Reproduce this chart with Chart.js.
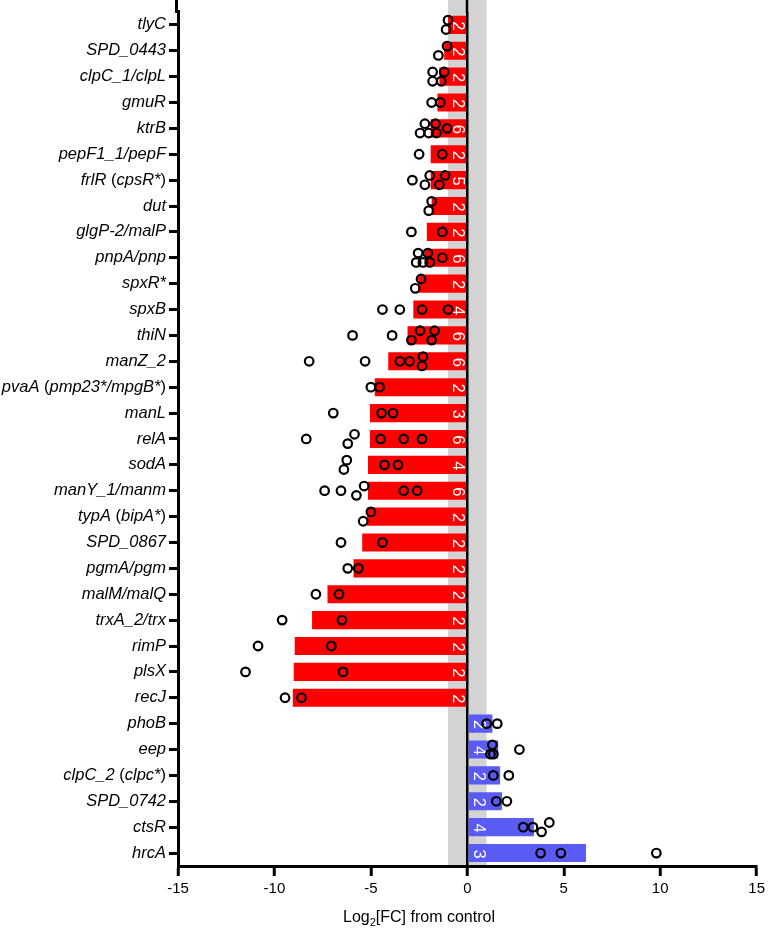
<!DOCTYPE html>
<html lang="en">
<head>
<meta charset="UTF-8">
<title>Log2 fold change per gene</title>
<script src="https://cdn.jsdelivr.net/npm/chart.js"></script>
<style>
    html, body { margin: 0; padding: 0; background: #fff; }
    #wrap { width: 769px; height: 928px; }
</style>
</head>
<body>
<div id="wrap"><canvas id="fc-chart" width="769" height="928"></canvas></div>
<script>
// genes, top to bottom
const genes = ['tlyC', 'SPD_0443', 'clpC_1/clpL', 'gmuR', 'ktrB', 'pepF1_1/pepF', 'frlR (cpsR*)', 'dut',
    'glgP-2/malP', 'pnpA/pnp', 'spxR*', 'spxB', 'thiN', 'manZ_2', 'pvaA (pmp23*/mpgB*)', 'manL', 'relA',
    'sodA', 'manY_1/manm', 'typA (bipA*)', 'SPD_0867', 'pgmA/pgm', 'malM/malQ', 'trxA_2/trx', 'rimP',
    'plsX', 'recJ', 'phoB', 'eep', 'clpC_2 (clpc*)', 'SPD_0742', 'ctsR', 'hrcA'];

// bar length (mean log2 FC)
const meanFC = [-1.0, -1.2, -1.45, -1.55, -1.9, -1.9, -1.9, -1.85, -2.1, -2.2, -2.55, -2.8, -3.1, -4.1,
    -4.8, -5.05, -5.05, -5.15, -5.15, -5.2, -5.45, -5.9, -7.25, -8.05, -8.95, -9.0, -9.05,
    1.3, 1.6, 1.7, 1.8, 3.45, 6.15];

// number printed inside each bar
const nReps = [2, 2, 2, 2, 6, 2, 5, 2, 2, 6, 2, 4, 6, 6, 2, 3, 6, 4, 6, 2, 2, 2, 2, 2, 2, 2, 2, 2, 4, 2, 2, 4, 3];

// individual values (open circles)
const replicateFC = [
    [-1.0, -1.1],
    [-1.05, -1.5],
    [-1.8, -1.8, -1.35, -1.2],
    [-1.4, -1.85],
    [-2.2, -2.45, -2.0, -1.65, -1.6, -1.05],
    [-2.5, -1.3],
    [-2.85, -2.2, -1.95, -1.45, -1.15],
    [-1.85, -2.0],
    [-2.9, -1.3],
    [-2.55, -2.65, -2.3, -2.05, -1.95, -1.3],
    [-2.4, -2.7],
    [-4.4, -3.5, -2.35, -1.0],
    [-5.95, -3.9, -2.45, -2.9, -1.7, -1.85],
    [-8.2, -5.3, -3.5, -3.0, -2.3, -2.35],
    [-4.55, -5.0],
    [-6.95, -4.45, -3.85],
    [-8.35, -6.2, -5.85, -4.5, -3.3, -2.35],
    [-6.25, -6.4, -4.3, -3.6],
    [-7.4, -6.55, -5.75, -5.35, -3.3, -2.6],
    [-5.0, -5.4],
    [-6.55, -4.4],
    [-6.2, -5.65],
    [-7.85, -6.65],
    [-9.6, -6.5],
    [-10.85, -7.05],
    [-11.5, -6.45],
    [-9.45, -8.6],
    [1.0, 1.55],
    [1.2, 1.3, 1.35, 2.7],
    [1.35, 2.15],
    [1.5, 2.05],
    [2.9, 3.4, 3.85, 4.25],
    [3.8, 4.85, 9.8]
];

const xTicks = [-15, -10, -5, 0, 5, 10, 15];
const axisTitle = ['Log', '2', '[FC] from control'];

const RED = '#ff0000';
const BLUE = '#5a5af4';
const FONT = '"Liberation Sans", Arial, Helvetica, sans-serif';
const LABEL_SIZE = 16.5;

// spread overlapping circles up/down inside their row
function jitterRow(values, row) {
    const sorted = values.slice().sort((a, b) => a - b);
    const pts = [];
    let cluster = [];
    const flush = () => {
        cluster.forEach((v, j) => {
            const off = cluster.length === 1 ? 0 : (j % 2 === 0 ? 0.18 : -0.18);
            pts.push({ x: v, y: row + off });
        });
        cluster = [];
    };
    sorted.forEach(v => {
        if (cluster.length && v - cluster[cluster.length - 1] > 0.45) flush();
        cluster.push(v);
    });
    flush();
    return pts;
}

const bars = meanFC.map((v, i) => ({ x: v, y: i }));
const points = [];
replicateFC.forEach((vals, i) => points.push(...jitterRow(vals, i)));

const bandPlugin = {
    id: 'band',
    beforeDraw(chart) {
        const { ctx, chartArea } = chart;
        const x = chart.scales.x;
        const a = x.getPixelForValue(-1), b = x.getPixelForValue(1);
        ctx.save();
        ctx.fillStyle = '#d3d3d3';
        ctx.fillRect(a, 0, b - a, chartArea.bottom);
        ctx.restore();
    },
    afterDraw(chart) {
        const { ctx, chartArea } = chart;
        const x = chart.scales.x, y = chart.scales.y;
        ctx.save();
        ctx.strokeStyle = '#000';
        ctx.lineWidth = 3;
        ctx.beginPath();
        ctx.moveTo(chartArea.left - 1.5, 0);
        ctx.lineTo(chartArea.left - 1.5, chartArea.top + 1);
        ctx.stroke();
        ctx.lineWidth = 2.5;
        ctx.beginPath();
        ctx.moveTo(Math.round(x.getPixelForValue(0)), 0);
        ctx.lineTo(Math.round(x.getPixelForValue(0)), chartArea.top + 1);
        ctx.stroke();

        // gene names: italic, brackets upright
        ctx.fillStyle = '#000';
        ctx.textBaseline = 'middle';
        ctx.textAlign = 'left';
        const ital = 'italic ' + LABEL_SIZE + 'px ' + FONT;
        const plain = LABEL_SIZE + 'px ' + FONT;
        const right = chartArea.left - 12;
        genes.forEach((g, i) => {
            const parts = g.split(/([()])/).filter(p => p !== '');
            const fonts = parts.map(p => (p === '(' || p === ')') ? plain : ital);
            let total = 0;
            const widths = parts.map((p, k) => { ctx.font = fonts[k]; const w = ctx.measureText(p).width; total += w; return w; });
            let tx = right - total;
            const ty = y.getPixelForValue(i);
            parts.forEach((p, k) => { ctx.font = fonts[k]; ctx.fillText(p, tx, ty); tx += widths[k]; });
        });

        // axis title with subscript
        ctx.textBaseline = 'alphabetic';
        const big = '16px ' + FONT, small = '11px ' + FONT;
        ctx.font = big;
        const w0 = ctx.measureText(axisTitle[0]).width;
        const w2 = ctx.measureText(axisTitle[2]).width;
        ctx.font = small;
        const w1 = ctx.measureText(axisTitle[1]).width;
        let tx = 419 - (w0 + w1 + w2) / 2;
        const ty = 922;
        ctx.font = big;
        ctx.fillText(axisTitle[0], tx, ty);
        tx += w0;
        ctx.font = small;
        ctx.fillText(axisTitle[1], tx, ty + 4);
        tx += w1;
        ctx.font = big;
        ctx.fillText(axisTitle[2], tx, ty);
        ctx.restore();
    }
};

const nLabelPlugin = {
    id: 'nLabels',
    afterDatasetDraw(chart, args) {
        if (args.index !== 0) return;
        const ctx = chart.ctx;
        const zero = chart.scales.x.getPixelForValue(0);
        ctx.save();
        ctx.fillStyle = '#fff';
        ctx.font = '16.5px ' + FONT;
        ctx.textAlign = 'center';
        ctx.textBaseline = 'middle';
        args.meta.data.forEach((bar, i) => {
            const cx = meanFC[i] < 0 ? zero - 10 : zero + 11;
            ctx.save();
            ctx.translate(cx, bar.y + 1);
            ctx.rotate(Math.PI / 2);
            ctx.fillText(String(nReps[i]), 0, 0);
            ctx.restore();
        });
        ctx.restore();
    }
};

new Chart(document.getElementById('fc-chart'), {
    type: 'bar',
    data: {
        datasets: [{
            type: 'bar',
            data: bars,
            indexAxis: 'y',
            backgroundColor: meanFC.map(v => v < 0 ? RED : BLUE),
            barPercentage: 0.7,
            categoryPercentage: 1,
            grouped: false,
            order: 1
        }, {
            type: 'scatter',
            data: points,
            indexAxis: 'x',
            pointRadius: 4.3,
            pointBorderWidth: 2.2,
            pointBorderColor: '#000',
            pointBackgroundColor: 'rgba(0,0,0,0)',
            showLine: false,
            order: 0
        }]
    },
    options: {
        indexAxis: 'y',
        responsive: false,
        animation: false,
        events: [],
        layout: { padding: { top: 6, right: 8, left: 0, bottom: 0 } },
        plugins: {
            legend: { display: false },
            tooltip: { enabled: false }
        },
        scales: {
            x: {
                type: 'linear',
                min: -15,
                max: 15,
                offset: false,
                afterBuildTicks: s => { s.ticks = xTicks.map(v => ({ value: v })); },
                ticks: { font: { family: FONT, size: 15 }, color: '#000', padding: 4 },
                grid: {
                    offset: false,
                    color: c => (c.tick && c.tick.value === 0) ? '#000' : 'rgba(0,0,0,0)',
                    lineWidth: 2.5,
                    tickLength: 10,
                    tickColor: '#000',
                    tickWidth: 3
                },
                border: { color: '#000', width: 3 },
                afterFit: s => { s.height = 62; }
            },
            y: {
                type: 'linear',
                min: -0.5,
                max: genes.length - 0.5,
                reverse: true,
                offset: false,
                afterBuildTicks: s => { s.ticks = genes.map((g, i) => ({ value: i })); },
                ticks: {
                    font: { family: FONT, size: LABEL_SIZE, style: 'italic' },
                    color: 'rgba(0,0,0,0)',
                    padding: 2,
                    autoSkip: false,
                    callback: v => genes[v]
                },
                grid: { offset: false, drawOnChartArea: false, tickLength: 9, tickColor: '#000', tickWidth: 3 },
                border: { color: '#000', width: 3 },
                afterFit: s => { s.width = 178; }
            }
        }
    },
    plugins: [bandPlugin, nLabelPlugin]
});
</script>
</body>
</html>
